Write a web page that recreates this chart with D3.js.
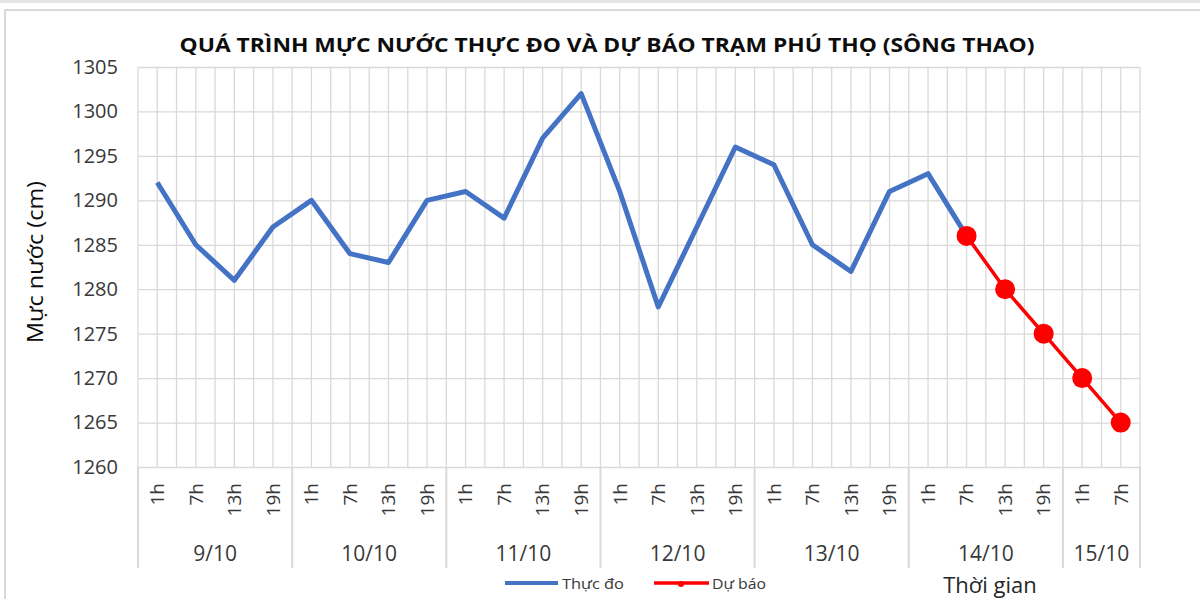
<!DOCTYPE html>
<html><head><meta charset="utf-8">
<script src="https://cdn.jsdelivr.net/npm/d3@7"></script>
<style>body{margin:0;background:#fff;overflow:hidden} text{font-family:"Open Sans",sans-serif;}</style>
</head><body><svg id="c" width="1200" height="599"></svg>
<script>
const groupLabels = ["9/10","10/10","11/10","12/10","13/10","14/10","15/10"];
const categoryDays = ["9/10","9/10","9/10","9/10","10/10","10/10","10/10","10/10","11/10","11/10","11/10","11/10","12/10","12/10","12/10","12/10","13/10","13/10","13/10","13/10","14/10","14/10","14/10","14/10","15/10","15/10"];
const categoryHours = ["1h","7h","13h","19h","1h","7h","13h","19h","1h","7h","13h","19h","1h","7h","13h","19h","1h","7h","13h","19h","1h","7h","13h","19h","1h","7h"];
const observed = [1292,1285,1281,1287,1290,1284,1283,1290,1291,1288,1297,1302,1291,1278,1287,1296,1294,1285,1282,1291,1293,1286,null,null,null,null];
const forecast = [null,null,null,null,null,null,null,null,null,null,null,null,null,null,null,null,null,null,null,null,null,1286,1280,1275,1270,1265];
const yTicks = [1260,1265,1270,1275,1280,1285,1290,1295,1300,1305];

const svg = d3.select("#c");
const L = 138, R = 1140, T = 67, B = 467;
const idx = d3.range(categoryHours.length);
const x = d3.scaleBand().domain(idx).range([L, R]).padding(0);
const bw = x.bandwidth();
const cx = i => x(i) + bw / 2;
const y = d3.scaleLinear().domain([1260, 1305]).range([B, T]);
const grid = "#d9d9d9";
const txt = "#383838";

// frame
svg.append("rect").attr("x",0).attr("y",0).attr("width",1200).attr("height",3).attr("fill","#e3e3e3");
svg.append("rect").attr("x",5).attr("y",10).attr("width",1210).attr("height",620)
  .attr("fill","#fff").attr("stroke","#d9d9d9").attr("stroke-width",2);

// vertical gridlines (category edges and centers)
const vx = [];
idx.forEach(i => { vx.push(x(i)); vx.push(cx(i)); });
vx.push(R);
svg.append("g").selectAll("line").data(vx).join("line")
  .attr("x1", d => d).attr("x2", d => d).attr("y1", T).attr("y2", B)
  .attr("stroke", grid).attr("stroke-width", 1.3);

// horizontal gridlines + y labels via axis
const yAxisGrid = d3.axisLeft(y).tickValues(yTicks).tickSize(-(R - L)).tickFormat("");
const gg = svg.append("g").attr("transform", `translate(${L},0)`).call(yAxisGrid);
gg.select(".domain").remove();
gg.selectAll("line").attr("stroke", grid).attr("stroke-width", 1.3);

const yAxis = d3.axisLeft(y).tickValues(yTicks).tickSize(0).tickPadding(0).tickFormat(d3.format("d"));
const ya = svg.append("g").attr("transform", `translate(118,0)`).call(yAxis);
ya.select(".domain").remove();
ya.selectAll("text").attr("font-size", 20).attr("fill", txt).attr("font-family", '"Open Sans",sans-serif');

// x-axis group separators
const groupStarts = [];
categoryDays.forEach((d, i) => { if (i === 0 || categoryDays[i-1] !== d) groupStarts.push(i); });
const sepX = groupStarts.map(i => x(i)).concat([R]);
svg.append("g").selectAll("line").data(sepX).join("line")
  .attr("x1", d => d).attr("x2", d => d).attr("y1", B).attr("y2", 568)
  .attr("stroke", grid).attr("stroke-width", 2);

// x tick labels (rotated)
svg.append("g").selectAll("text").data(idx).join("text")
  .attr("transform", i => `translate(${cx(i)},483) rotate(-90)`)
  .attr("text-anchor", "end").attr("dy", "0.36em")
  .attr("font-size", 19).attr("fill", txt)
  .text(i => categoryHours[i]);

// group labels
svg.append("g").selectAll("text").data(groupLabels).join("text")
  .attr("x", g => {
    const ii = idx.filter(i => categoryDays[i] === g);
    return (x(ii[0]) + x(ii[ii.length-1]) + bw) / 2;
  })
  .attr("y", 561).attr("text-anchor", "middle")
  .attr("font-size", 21).attr("fill", txt).text(g => g);

// lines
const line = d3.line().defined(d => d.v !== null).x(d => cx(d.i)).y(d => y(d.v));
const obsData = observed.map((v, i) => ({i, v}));
const fcData = forecast.map((v, i) => ({i, v}));
svg.append("path").datum(obsData).attr("d", line).attr("fill", "none")
  .attr("stroke", "#4472C4").attr("stroke-width", 5).attr("stroke-linejoin", "round");
svg.append("path").datum(fcData).attr("d", line).attr("fill", "none")
  .attr("stroke", "#FF0000").attr("stroke-width", 3.5).attr("stroke-linejoin", "round");
svg.append("g").selectAll("circle").data(fcData.filter(d => d.v !== null)).join("circle")
  .attr("cx", d => cx(d.i)).attr("cy", d => y(d.v)).attr("r", 10).attr("fill", "#FF0000");

// title
svg.append("text").attr("x", 607).attr("y", 52).attr("text-anchor", "middle")
  .attr("font-size", 20).attr("font-weight", "bold").attr("fill", "#0d0d0d")
  .attr("textLength", 855).attr("lengthAdjust", "spacingAndGlyphs")
  .text("QUÁ TRÌNH MỰC NƯỚC THỰC ĐO VÀ DỰ BÁO TRẠM PHÚ THỌ (SÔNG THAO)");

// y axis title
svg.append("text").attr("transform", "translate(43,262) rotate(-90)")
  .attr("text-anchor", "middle").attr("font-size", 21).attr("fill", "#0d0d0d")
  .attr("textLength", 162).attr("lengthAdjust", "spacingAndGlyphs")
  .text("Mực nước (cm)");

// x axis title
svg.append("text").attr("x", 990).attr("y", 593).attr("text-anchor", "middle")
  .attr("font-size", 22).attr("fill", "#262626").text("Thời gian");

// legend
const lg = svg.append("g");
lg.append("line").attr("x1", 505).attr("x2", 558).attr("y1", 583).attr("y2", 583)
  .attr("stroke", "#4472C4").attr("stroke-width", 4);
lg.append("text").attr("x", 562).attr("y", 589).attr("font-size", 15).attr("fill", txt)
  .attr("textLength", 62).attr("lengthAdjust", "spacingAndGlyphs").text("Thực đo");
lg.append("line").attr("x1", 654).attr("x2", 709).attr("y1", 583).attr("y2", 583)
  .attr("stroke", "#FF0000").attr("stroke-width", 3.5);
lg.append("circle").attr("cx", 681).attr("cy", 584).attr("r", 3).attr("fill", "#FF0000");
lg.append("text").attr("x", 712).attr("y", 589).attr("font-size", 15).attr("fill", txt)
  .attr("textLength", 54).attr("lengthAdjust", "spacingAndGlyphs").text("Dự báo");
</script></body></html>
